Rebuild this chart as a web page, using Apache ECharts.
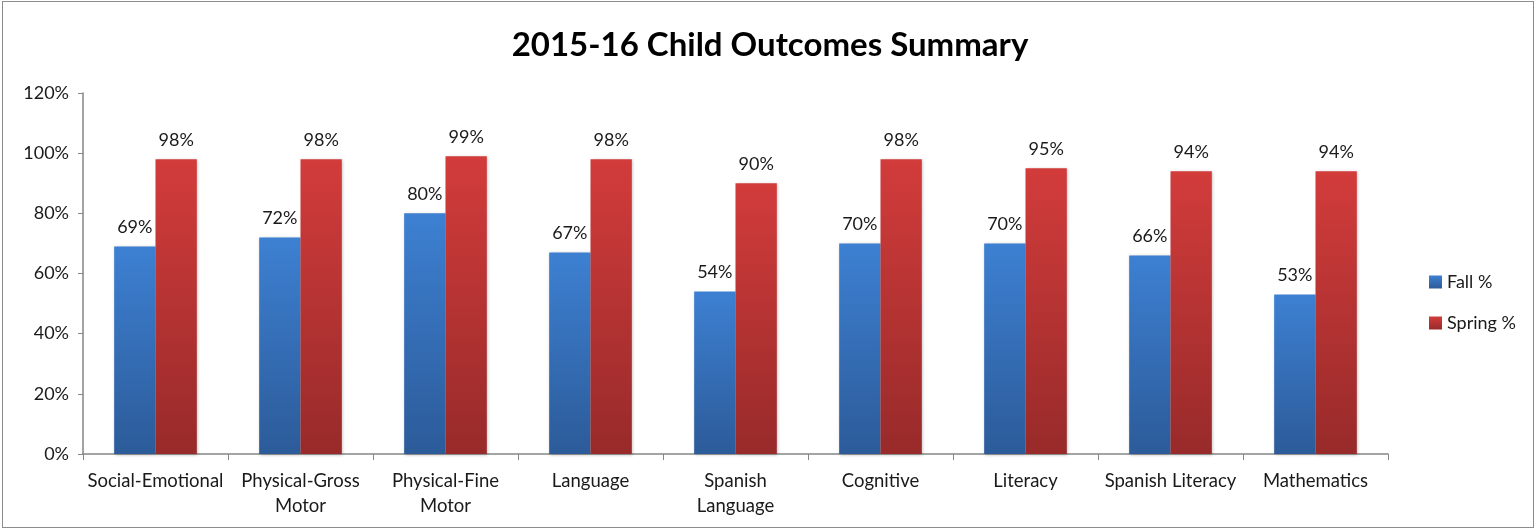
<!DOCTYPE html>
<html>
<head>
<meta charset="utf-8">
<script src="https://cdn.jsdelivr.net/npm/echarts@6/dist/echarts.min.js"></script>
<style>
html,body{margin:0;padding:0;background:#fff;}
#frame{position:absolute;left:2px;top:1px;width:1532px;height:527px;border:1px solid #8c8c8c;box-sizing:border-box;}
#c{position:absolute;left:0;top:0;width:1539px;height:531px;}
</style>
</head>
<body>
<div id="frame"></div>
<div id="c"></div>
<script>
const categories = ["Social-Emotional", "Physical-Gross\nMotor", "Physical-Fine\nMotor", "Language", "Spanish\nLanguage", "Cognitive", "Literacy", "Spanish Literacy", "Mathematics"];
const fallValues = [69, 72, 80, 67, 54, 70, 70, 66, 53];
const springValues = [98, 98, 99, 98, 90, 98, 95, 94, 94];
const yTicks = [0, 20, 40, 60, 80, 100, 120];

const FONT = 'Lato, "Open Sans", sans-serif';
const chart = echarts.init(document.getElementById('c'));
function grad(top, bottom){
  return new echarts.graphic.LinearGradient(0,0,0,1,[{offset:0,color:top},{offset:1,color:bottom}]);
}
const labelCfg = {show:true, position:'top', distance:10, formatter:'{c}%', color:'#1a1a1a', fontFamily:FONT, fontSize:18};
chart.setOption({
  animation:false,
  title:{text:'2015-16 Child Outcomes Summary', left:765, textAlign:'center', top:24,
    textStyle:{fontFamily:FONT, fontWeight:'bold', fontSize:33, color:'#000'}},
  legend:{orient:'vertical', left:1424, top:268, itemWidth:13, itemHeight:13, itemGap:23,
    textStyle:{fontFamily:FONT, fontSize:18, color:'#1a1a1a'}, icon:'rect',
    data:['Fall %','Spring %']},
  grid:{left:83, right:151, top:93, bottom:77},
  xAxis:{type:'category', data:categories,
    axisLine:{lineStyle:{color:'#868686', width:1.5}},
    axisTick:{show:true, length:6, lineStyle:{color:'#868686'}},
    axisLabel:{interval:0, margin:15, fontFamily:FONT, fontSize:18.5, color:'#1a1a1a', lineHeight:25}},
  yAxis:{type:'value', min:yTicks[0], max:yTicks[yTicks.length-1], interval:20,
    axisLine:{show:true, lineStyle:{color:'#868686', width:1.5}},
    axisTick:{show:true, length:5, lineStyle:{color:'#868686'}},
    splitLine:{show:false},
    axisLabel:{margin:14, formatter:'{value}%', fontFamily:FONT, fontSize:18, color:'#1a1a1a'}},
  series:[
    {name:'Fall %', type:'bar', data:fallValues, barGap:'0%', barCategoryGap:'43%',
     itemStyle:{color:grad('#3d80d2','#2c5b99'), shadowColor:'rgba(0,0,0,0.25)', shadowBlur:3, shadowOffsetX:1, shadowOffsetY:1},
     label:labelCfg},
    {name:'Spring %', type:'bar', data:springValues, barGap:'0%', barCategoryGap:'43%',
     itemStyle:{color:grad('#d23c3b','#982a2a'), shadowColor:'rgba(0,0,0,0.25)', shadowBlur:3, shadowOffsetX:1, shadowOffsetY:1},
     label:labelCfg}
  ]
});
</script>
</body>
</html>
